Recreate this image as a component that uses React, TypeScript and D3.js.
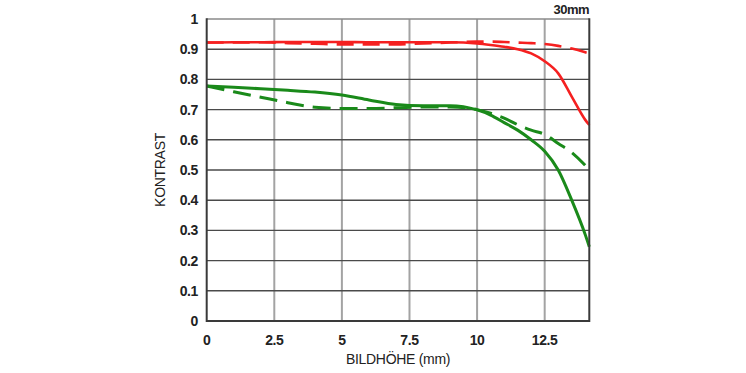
import React from "react";
import * as d3 from "d3";

const heights = [0, 1, 2, 3, 4, 5, 6, 7, 8, 9, 10, 10.5, 11, 11.5, 12, 12.5, 13, 13.5, 14, 14.15];
const redSolid = [0.922, 0.923, 0.923, 0.924, 0.924, 0.924, 0.923, 0.923, 0.923, 0.923, 0.919, 0.914, 0.908, 0.9, 0.886, 0.86, 0.82, 0.743, 0.666, 0.649];
const redDashed = [0.922, 0.922, 0.923, 0.92, 0.918, 0.916, 0.916, 0.916, 0.919, 0.922, 0.925, 0.925, 0.924, 0.922, 0.92, 0.917, 0.911, 0.902, 0.89, 0.886];
const greenSolid = [0.778, 0.774, 0.769, 0.764, 0.758, 0.748, 0.732, 0.717, 0.713, 0.713, 0.699, 0.682, 0.657, 0.632, 0.6, 0.562, 0.5, 0.4, 0.286, 0.246];
const greenDashed = [0.778, 0.759, 0.741, 0.723, 0.708, 0.704, 0.704, 0.706, 0.709, 0.709, 0.7, 0.688, 0.672, 0.65, 0.632, 0.618, 0.588, 0.558, 0.515, 0.5];

const xTicks = [0, 2.5, 5, 7.5, 10, 12.5];
const xTickLabels = ["0", "2.5", "5", "7.5", "10", "12.5"];
const yTicks = [0, 0.1, 0.2, 0.3, 0.4, 0.5, 0.6, 0.7, 0.8, 0.9, 1];
const yTickLabels = ["0", "0.1", "0.2", "0.3", "0.4", "0.5", "0.6", "0.7", "0.8", "0.9", "1"];
const title = "30mm";
const xTitle = "BILDHÖHE (mm)";
const yTitle = "KONTRAST";

const W = 746, H = 373;
const left = 206.7, right = 589.3, top = 19, bottom = 321;

export default function App() {
  const x = d3.scaleLinear().domain([0, 14.15]).range([left, right]);
  const y = d3.scaleLinear().domain([0, 1]).range([bottom, top]);
  const line = (vals: number[]) =>
    d3.line<number>().x((_, i) => x(heights[i])).y((d) => y(d)).curve(d3.curveMonotoneX)(vals) || "";

  const series = [
    { vals: greenDashed, color: "#1a8a1a", dash: "18,9", w: 3 },
    { vals: greenSolid, color: "#1a8a1a", dash: "", w: 3 },
    { vals: redDashed, color: "#f52020", dash: "17,9", w: 2.6 },
    { vals: redSolid, color: "#f52020", dash: "", w: 2.6 },
  ];
  const font = "'Liberation Sans', Arial, Helvetica, sans-serif";

  return (
    <svg width={W} height={H} style={{ position: "absolute", left: 0, top: 0, background: "#fff" }} fontFamily={font}>
      {xTicks.filter((t) => t > 0).map((t) => (
        <line key={"vx" + t} x1={x(t)} x2={x(t)} y1={top} y2={bottom} stroke="#a3a3a3" strokeWidth={2} />
      ))}
      {yTicks.filter((t) => t > 0 && t < 1).map((t) => (
        <line key={"hy" + t} x1={left} x2={right} y1={y(t)} y2={y(t)} stroke="#4a4a4a" strokeWidth={1.4} />
      ))}
      <line x1={left} x2={right} y1={top} y2={top} stroke="#8a8a8a" strokeWidth={1.6} />
      {series.map((s, i) => (
        <path key={i} d={line(s.vals)} fill="none" stroke={s.color} strokeWidth={s.w} strokeDasharray={s.dash || undefined} strokeLinecap="butt" />
      ))}
      <line x1={left} x2={left} y1={top - 0.8} y2={bottom + 1} stroke="#3a3a3a" strokeWidth={2} />
      <line x1={right} x2={right} y1={top - 0.8} y2={bottom + 1} stroke="#3a3a3a" strokeWidth={2} />
      <line x1={left} x2={right} y1={bottom} y2={bottom} stroke="#3a3a3a" strokeWidth={2.2} />
      {yTicks.map((t, i) => (
        <text key={"yl" + t} x={198} y={y(t) + 5} textAnchor="end" fontSize={14} fontWeight="bold" fill="#222" letterSpacing={-0.4}>
          {yTickLabels[i]}
        </text>
      ))}
      {xTicks.map((t, i) => (
        <text key={"xl" + t} x={x(t)} y={344.5} textAnchor="middle" fontSize={14} fontWeight="bold" fill="#222" letterSpacing={-0.4}>
          {xTickLabels[i]}
        </text>
      ))}
      <text x={398} y={364} textAnchor="middle" fontSize={14} fill="#222" letterSpacing={-0.3}>{xTitle}</text>
      <text transform={`translate(165,170) rotate(-90)`} textAnchor="middle" fontSize={14} fill="#222" letterSpacing={-0.3}>{yTitle}</text>
      <text x={589} y={13.5} textAnchor="end" fontSize={13} fontWeight="bold" fill="#222" letterSpacing={-0.5}>{title}</text>
    </svg>
  );
}
